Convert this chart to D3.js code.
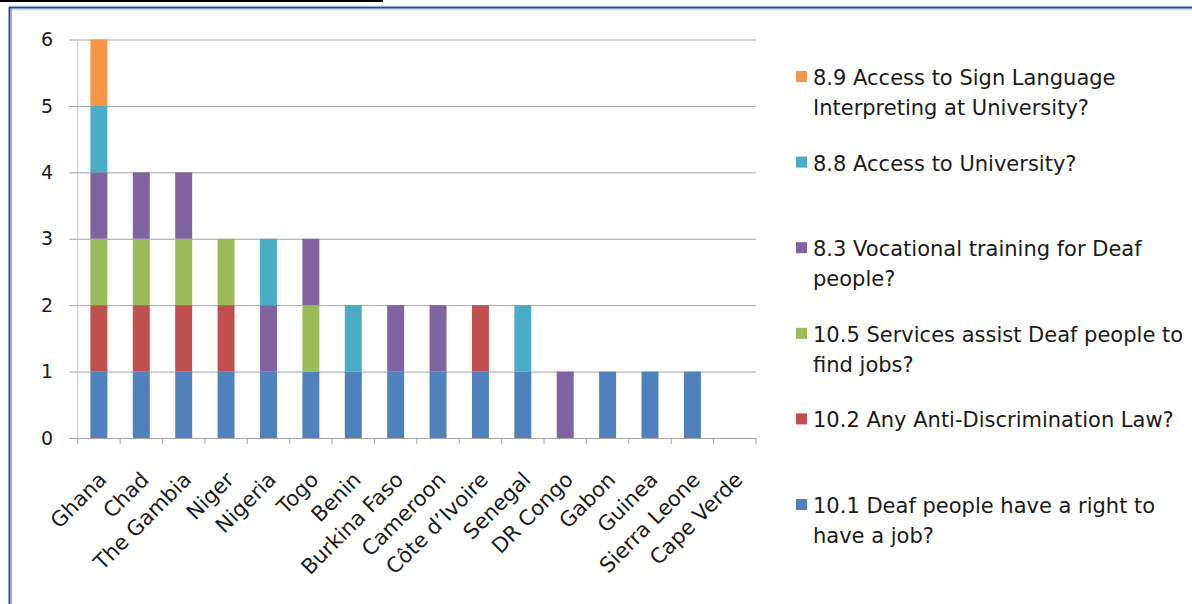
<!DOCTYPE html>
<html>
<head>
<meta charset="utf-8">
<script src="https://cdn.jsdelivr.net/npm/d3@7"></script>
<style>
  html, body { margin: 0; padding: 0; background: #fff; }
  svg { display: block; }
  text { font-family: "DejaVu Sans", sans-serif; fill: #1a1a1a; }
</style>
</head>
<body>
<div id="chart"></div>
<script>
// categories (left to right)
var countries = ["Ghana", "Chad", "The Gambia", "Niger", "Nigeria", "Togo", "Benin",
    "Burkina Faso", "Cameroon", "C\u00f4te d\u2019Ivoire", "Senegal", "DR Congo",
    "Gabon", "Guinea", "Sierra Leone", "Cape Verde"];

// series, bottom of the stack first
var seriesKeys = ["q101", "q102", "q105", "q83", "q88", "q89"];
var seriesNames = {
    q101: ["10.1 Deaf people have a right to", "have a job?"],
    q102: ["10.2 Any Anti-Discrimination Law?"],
    q105: ["10.5 Services assist Deaf people to", "find jobs?"],
    q83:  ["8.3 Vocational training for Deaf", "people?"],
    q88:  ["8.8 Access to University?"],
    q89:  ["8.9 Access to Sign Language", "Interpreting at University?"]
};
var seriesColors = {
    q101: "#4f81bd", q102: "#c0504d", q105: "#9bbb59",
    q83: "#8064a2", q88: "#4bacc6", q89: "#f79646"
};

// values per series, one per country
var q101 = [1, 1, 1, 1, 1, 1, 1, 1, 1, 1, 1, 0, 1, 1, 1, 0];
var q102 = [1, 1, 1, 1, 0, 0, 0, 0, 0, 1, 0, 0, 0, 0, 0, 0];
var q105 = [1, 1, 1, 1, 0, 1, 0, 0, 0, 0, 0, 0, 0, 0, 0, 0];
var q83  = [1, 1, 1, 0, 1, 1, 0, 1, 1, 0, 0, 1, 0, 0, 0, 0];
var q88  = [1, 0, 0, 0, 1, 0, 1, 0, 0, 0, 1, 0, 0, 0, 0, 0];
var q89  = [1, 0, 0, 0, 0, 0, 0, 0, 0, 0, 0, 0, 0, 0, 0, 0];

var yTicks = [0, 1, 2, 3, 4, 5, 6];

var values = { q101: q101, q102: q102, q105: q105, q83: q83, q88: q88, q89: q89 };
var table = countries.map(function(c, i) {
    var row = { country: c };
    seriesKeys.forEach(function(k) { row[k] = values[k][i]; });
    return row;
});

var W = 1192, H = 604;
var svg = d3.select("#chart").append("svg")
    .attr("width", W)
    .attr("height", H);

svg.append("rect").attr("width", W).attr("height", H).attr("fill", "#fff");

// slide frame
svg.append("line").attr("x1", 0).attr("x2", 383).attr("y1", 1).attr("y2", 1)
    .attr("stroke", "#000").attr("stroke-width", 2);
svg.append("line").attr("x1", 9).attr("x2", W).attr("y1", 9.5).attr("y2", 9.5)
    .attr("stroke", "#d8d8d8").attr("stroke-width", 2);
svg.append("line").attr("x1", 9).attr("x2", W).attr("y1", 7.5).attr("y2", 7.5)
    .attr("stroke", "#2c4c8c").attr("stroke-width", 2);
svg.append("line").attr("x1", 9.5).attr("x2", 9.5).attr("y1", 7).attr("y2", H)
    .attr("stroke", "#2c4c8c").attr("stroke-width", 2);
svg.append("line").attr("x1", 11.5).attr("x2", 11.5).attr("y1", 9).attr("y2", H)
    .attr("stroke", "#9fb3d8").attr("stroke-width", 1);

var plotLeft = 77.7, plotRight = 756, y0 = 438, y6 = 39.5;

var x = d3.scaleBand()
    .domain(countries)
    .range([plotLeft, plotRight])
    .paddingInner(0.6)
    .paddingOuter(0.3);

var y = d3.scaleLinear()
    .domain([0, 6])
    .range([y0, y6]);

// gridlines + y labels
var yAxis = svg.append("g")
    .attr("transform", "translate(69,0)")
    .call(d3.axisLeft(y).tickValues(yTicks).tickSize(-(plotRight - 69)).tickPadding(16).tickFormat(d3.format("d")));
yAxis.select(".domain").remove();
yAxis.selectAll(".tick line").attr("stroke", "#a3a3a3");
yAxis.selectAll(".tick text")
    .style("font-size", "19px")
    .attr("fill", "#1a1a1a");

// vertical axis line
svg.append("line")
    .attr("x1", plotLeft).attr("x2", plotLeft)
    .attr("y1", y(6)).attr("y2", y(0) + 6)
    .attr("stroke", "#c4c4c4");

// x tick marks at category boundaries
var step = x.step();
var bounds = d3.range(countries.length + 1).map(function(i) { return plotLeft + i * step; });
svg.append("g").selectAll("line")
    .data(bounds)
    .enter().append("line")
    .attr("x1", function(d) { return d; })
    .attr("x2", function(d) { return d; })
    .attr("y1", y0)
    .attr("y2", y0 + 6)
    .attr("stroke", "#a3a3a3");

// stacked bars
var stack = d3.stack().keys(seriesKeys);
var layers = stack(table);

svg.append("g").selectAll("g")
    .data(layers)
    .enter().append("g")
    .attr("fill", function(d) { return seriesColors[d.key]; })
    .selectAll("rect")
    .data(function(d) { return d; })
    .enter().append("rect")
    .attr("x", function(d) { return x(d.data.country); })
    .attr("width", x.bandwidth())
    .attr("y", function(d) { return y(d[1]); })
    .attr("height", function(d) { return y(d[0]) - y(d[1]); });

// rotated category labels
svg.append("g").selectAll("text")
    .data(countries)
    .enter().append("text")
    .attr("text-anchor", "end")
    .style("font-size", "21px")
    .attr("transform", function(d) {
        return "translate(" + (x(d) + x.bandwidth() / 2 + 9) + "," + 481 + ") rotate(-45)";
    })
    .text(function(d) { return d; });

// legend, top item first
var legendOrder = seriesKeys.slice().reverse();
var legend = svg.append("g").selectAll("g")
    .data(legendOrder)
    .enter().append("g")
    .attr("transform", function(d, i) { return "translate(796," + (85 + i * 85.6) + ")"; });

legend.append("rect")
    .attr("x", 0).attr("y", -14)
    .attr("width", 11).attr("height", 11)
    .attr("fill", function(d) { return seriesColors[d]; });

legend.append("text")
    .style("font-size", "21px")
    .selectAll("tspan")
    .data(function(d) { return seriesNames[d]; })
    .enter().append("tspan")
    .attr("x", 17)
    .attr("y", function(d, i) { return i * 30; })
    .text(function(d) { return d; });
</script>
</body>
</html>
